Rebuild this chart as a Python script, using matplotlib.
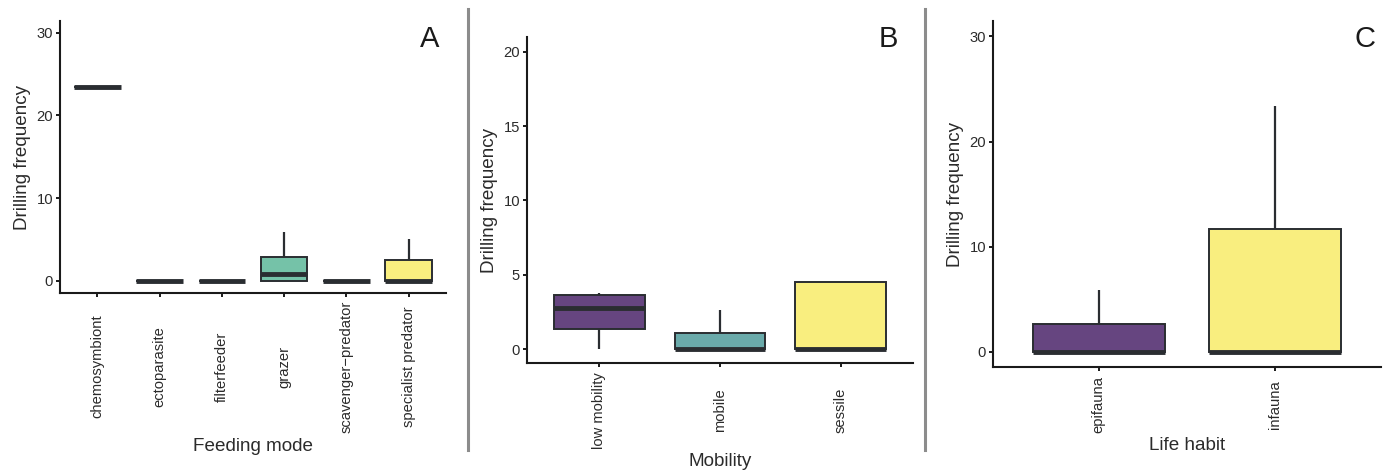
import matplotlib
matplotlib.use("Agg")
import matplotlib.pyplot as plt
from matplotlib.lines import Line2D

plt.rcParams['font.family'] = ['Liberation Sans', 'DejaVu Sans']

# ---- Data (box statistics) ----
feeding_cats = ["chemosymbiont", "ectoparasite", "filterfeeder", "grazer",
                "scavenger\u2212predator", "specialist predator"]
feeding_whislo = [23.4, 0.0, 0.0, 0.0, 0.0, 0.0]
feeding_q1 = [23.4, 0.0, 0.0, 0.0, 0.0, 0.0]
feeding_med = [23.4, 0.0, 0.0, 0.85, 0.0, 0.0]
feeding_q3 = [23.4, 0.0, 0.0, 2.95, 0.0, 2.55]
feeding_whishi = [23.4, 0.0, 0.0, 5.9, 0.0, 5.1]
feeding_colors = ["#440154", "#414487", "#2A788E", "#75C2A8", "#7AD151", "#F9EE7F"]

mobility_cats = ["low mobility", "mobile", "sessile"]
mobility_whislo = [0.0, 0.0, 0.0]
mobility_q1 = [1.35, 0.0, 0.0]
mobility_med = [2.74, 0.0, 0.0]
mobility_q3 = [3.65, 1.08, 4.53]
mobility_whishi = [3.75, 2.62, 4.53]
mobility_colors = ["#664580", "#6AAAAA", "#F9EE7F"]

habit_cats = ["epifauna", "infauna"]
habit_whislo = [0.0, 0.0]
habit_q1 = [0.0, 0.0]
habit_med = [0.0, 0.0]
habit_q3 = [2.7, 11.66]
habit_whishi = [5.86, 23.35]
habit_colors = ["#664580", "#F9EE7F"]

W, H = 1383, 473
DPI = 100
fig = plt.figure(figsize=(W / DPI, H / DPI), dpi=DPI)

EDGE = "#2a2d31"
TXT = "#2b2b2b"


def px_axes(left, top, right, bottom):
    return fig.add_axes([left / W, 1 - bottom / H, (right - left) / W, (bottom - top) / H])


def panel(ax, cats, wlo, q1, med, q3, whi, colors, ylim, yticks, xlabel, letter,
          letter_xy, label_pad, xlabel_pad):
    stats = []
    for i in range(len(cats)):
        stats.append(dict(whislo=wlo[i], q1=q1[i], med=med[i], q3=q3[i],
                          whishi=whi[i], fliers=[], label=cats[i]))
    pos = list(range(1, len(cats) + 1))
    bp = ax.bxp(stats, positions=pos, widths=0.75, patch_artist=True,
                showcaps=False, showfliers=False,
                boxprops=dict(linewidth=1.4, edgecolor=EDGE),
                medianprops=dict(linewidth=3.5, color=EDGE, solid_capstyle='butt'),
                whiskerprops=dict(linewidth=1.6, color=EDGE, solid_capstyle='butt'))
    for patch, c in zip(bp['boxes'], colors):
        patch.set_facecolor(c)
    ax.set_xlim(0.4, len(cats) + 0.6)
    ax.set_ylim(*ylim)
    ax.set_yticks(yticks)
    ax.set_yticklabels([str(t) for t in yticks])
    ax.set_xticks(pos)
    ax.set_xticklabels(cats, rotation=90, rotation_mode='anchor', ha='center', va='center')
    for s in ['top', 'right']:
        ax.spines[s].set_visible(False)
    for s in ['left', 'bottom']:
        ax.spines[s].set_linewidth(1.5)
        ax.spines[s].set_color("#1a1a1a")
    ax.tick_params(axis='both', direction='out', length=3, width=1.4, color="#1a1a1a",
                   labelcolor=TXT, labelsize=10.6)
    ax.tick_params(axis='x', pad=label_pad)
    ax.tick_params(axis='y', pad=2)
    ax.set_ylabel("Drilling frequency", fontsize=13.6, color=TXT, labelpad=4)
    ax.set_xlabel(xlabel, fontsize=13.6, color=TXT, labelpad=xlabel_pad)
    fig.text(letter_xy[0] / W, 1 - letter_xy[1] / H, letter, fontsize=21,
             color="#1a1a1a", ha='center', va='center')


axA = px_axes(60, 21, 446, 293)
panel(axA, feeding_cats, feeding_whislo, feeding_q1, feeding_med, feeding_q3,
      feeding_whishi, feeding_colors, (-1.45, 31.4), [0, 10, 20, 30],
      "Feeding mode", "A", (430, 39), 50, 4)

axB = px_axes(527, 37, 913, 363)
panel(axB, mobility_cats, mobility_whislo, mobility_q1, mobility_med, mobility_q3,
      mobility_whishi, mobility_colors, (-0.94, 21.0), [0, 5, 10, 15, 20],
      "Mobility", "B", (888, 39), 31, 3)

axC = px_axes(993, 21, 1381, 367)
panel(axC, habit_cats, habit_whislo, habit_q1, habit_med, habit_q3,
      habit_whishi, habit_colors, (-1.43, 31.46), [0, 10, 20, 30],
      "Life habit", "C", (1365, 39), 24, 3)

# separators between panels
for xs in (468, 925):
    fig.add_artist(Line2D([xs / W, xs / W], [1 - 9 / H, 1 - 450 / H],
                          transform=fig.transFigure, color="#8c8c8c", linewidth=2.2))

fig.savefig("out.png", dpi=DPI)
